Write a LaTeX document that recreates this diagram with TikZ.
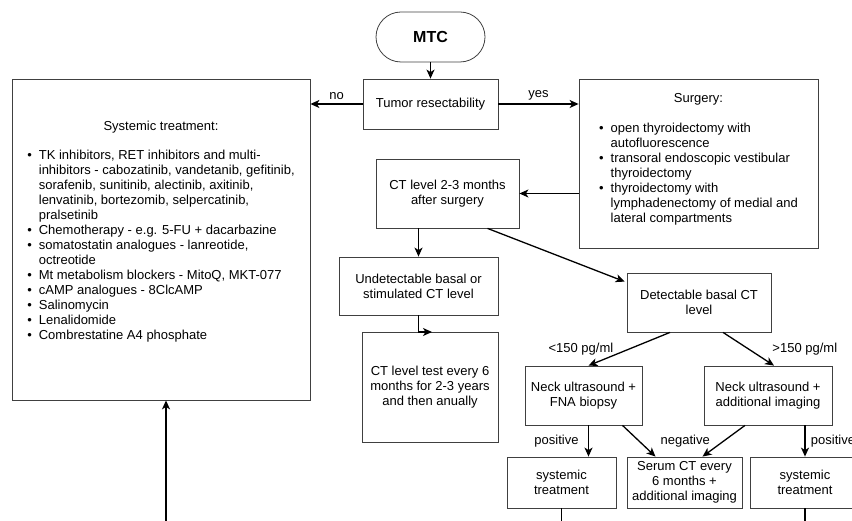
\documentclass[tikz,border=0pt]{standalone}
\usepackage{fontspec}
\setmainfont{Liberation Sans}
\usetikzlibrary{positioning,arrows.meta}

\begin{document}
\begin{tikzpicture}[x=1pt,y=-1pt,>={Stealth[length=9pt,width=8pt,inset=2.5pt]},
    box/.style={draw=black!75,line width=0.8pt,align=center,inner sep=2pt,font=\fontsize{13}{15}\selectfont},
    arr/.style={->,line width=1.3pt},
    lbl/.style={font=\fontsize{13}{15}\selectfont}]
  \clip (0,0) rectangle (852,521);
  % start and resectability
  \node[box,rounded corners=25pt,minimum width=109pt,minimum height=50pt,font=\fontsize{16}{18}\selectfont\bfseries] (mtc) at (430.5,37) {MTC};
  \node[box,minimum width=135pt,minimum height=50pt] (tumor) at (430.5,104) {Tumor resectability};
  % systemic treatment (left)
  \node[box,minimum width=298pt,minimum height=321pt] (sys) at (161,239.5) {Systemic treatment:\\[14pt]%
    \begin{tabular}[t]{@{}l@{\hspace{7pt}}l@{}}
      \textbullet & TK inhibitors, RET inhibitors and multi-\\
       & inhibitors - cabozatinib, vandetanib, gefitinib,\\
       & sorafenib, sunitinib, alectinib, axitinib,\\
       & lenvatinib, bortezomib, selpercatinib,\\
       & pralsetinib\\
      \textbullet & Chemotherapy - e.g. 5-FU + dacarbazine\\
      \textbullet & somatostatin analogues - lanreotide,\\
       & octreotide\\
      \textbullet & Mt metabolism blockers - MitoQ, MKT-077\\
      \textbullet & cAMP analogues - 8ClcAMP\\
      \textbullet & Salinomycin\\
      \textbullet & Lenalidomide\\
      \textbullet & Combrestatine A4 phosphate\\[13pt]
    \end{tabular}};
  % surgery (right)
  \node[box,minimum width=239pt,minimum height=169pt] (surg) at (698.5,163.5) {Surgery:\\[15pt]%
    \begin{tabular}[t]{@{}l@{\hspace{7pt}}l@{}}
      \textbullet & open thyroidectomy with\\
       & autofluorescence\\
      \textbullet & transoral endoscopic vestibular\\
       & thyroidectomy\\
      \textbullet & thyroidectomy with\\
       & lymphadenectomy of medial and\\
       & lateral compartments\\[7pt]
    \end{tabular}};
  % follow-up
  \node[box,minimum width=143pt,minimum height=69pt] (ctsurg) at (447.5,193.5) {CT level 2-3 months\\after surgery};
  \node[box,minimum width=159pt,minimum height=58pt] (undet) at (418.5,286) {Undetectable basal or\\stimulated CT level};
  \node[box,minimum width=136pt,minimum height=110pt] (test) at (430,387) {CT level test every 6\\months for 2-3 years\\and then anually};
  \node[box,minimum width=144pt,minimum height=59pt] (det) at (699,302.5) {Detectable basal CT\\level};
  \node[box,minimum width=117pt,minimum height=59pt] (fna) at (583.5,395.5) {Neck ultrasound +\\FNA biopsy};
  \node[box,minimum width=128pt,minimum height=59pt] (addimg) at (768,395.5) {Neck ultrasound +\\additional imaging};
  \node[box,minimum width=109pt,minimum height=51pt] (sysl) at (561.5,482.5) {systemic\\treatment};
  \node[box,minimum width=115pt,minimum height=51pt] (serum) at (684.5,482.5) {Serum CT every\\6 months +\\additional imaging};
  \node[box,minimum width=110pt,minimum height=51pt] (sysr) at (805,482.5) {systemic\\treatment};
  % free ends
  \coordinate (bend) at (432,332);
  \coordinate (sysin) at (166,530);
  \coordinate (cut) at (0,530);
  % connectors
  \draw[arr] (mtc.south) -- (tumor.north);
  \draw[arr] (tumor.west) -- node[lbl,above] {no} (sys.east |- tumor.west);
  \draw[arr] (tumor.east) -- node[lbl,above] {yes} (surg.west |- tumor.east);
  \draw[arr] (surg.west |- ctsurg.east) -- (ctsurg.east);
  \draw[arr] (ctsurg.south -| undet.north) -- (undet.north);
  \draw[arr] ([xshift=40pt]ctsurg.south) -- ([xshift=-2pt,yshift=-9pt]det.north west);
  \draw[arr] (undet.south) |- (bend);
  \draw[arr] ([xshift=-29pt]det.south) -- node[lbl,left=12pt] {<150 pg/ml} ([xshift=5pt]fna.north);
  \draw[arr] ([xshift=24pt]det.south) -- node[lbl,right=20pt] {>150 pg/ml} ([xshift=6pt]addimg.north);
  \draw[arr] ([xshift=5pt]fna.south) -- node[lbl,left=6pt] {positive} ([xshift=5pt]fna.south |- sysl.north);
  \draw[arr] ([xshift=39pt]fna.south) -- ([xshift=-29pt]serum.north);
  \draw[arr] ([xshift=-23pt]addimg.south) -- node[lbl,left=10pt] {negative} ([xshift=18pt]serum.north);
  \draw[arr] (addimg.south -| sysr.north) -- node[lbl,right=2pt] {positive} (sysr.north);
  \draw[arr] (sysin) -- (sysin |- sys.south);
  \draw[line width=1.3pt] (sysl.south) -- (sysl.south |- cut);
  \draw[line width=1.3pt] (sysr.south) -- (sysr.south |- cut);
\end{tikzpicture}
\end{document}
